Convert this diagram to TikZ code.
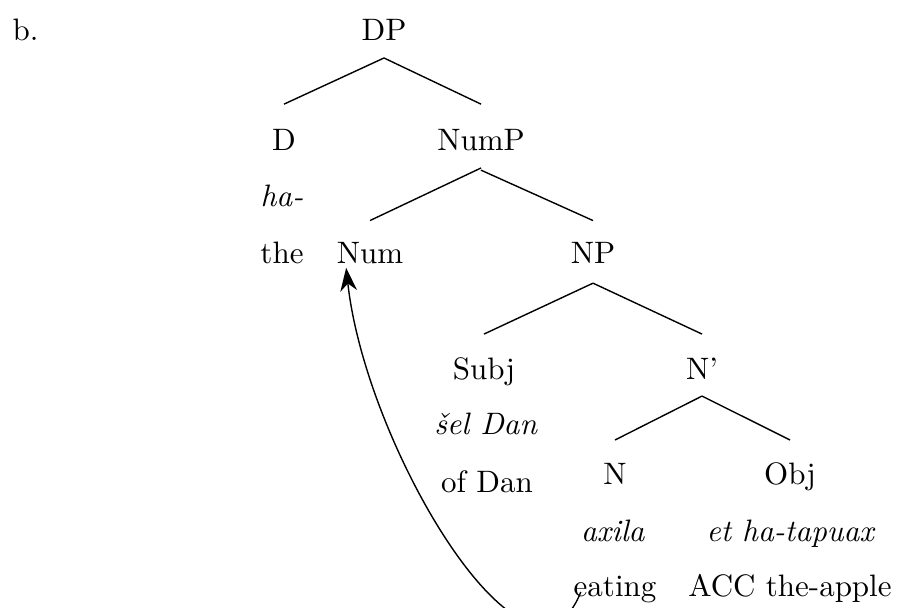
\documentclass[tikz,border=0pt]{standalone}
\usepackage{fontspec}
\usetikzlibrary{arrows.meta}
\begin{document}
\begin{tikzpicture}[x=0.3226pt,y=-0.3226pt,
  lbl/.style={inner sep=0pt,anchor=base,text height=6.83pt,text depth=1.94pt},
  edge/.style={line width=0.45pt},
  mv/.style={line width=0.45pt,-{Stealth[length=7.5pt,width=5.4pt,inset=2.4pt]}}]
\useasboundingbox (0,0) rectangle (898,607);
\node[lbl,anchor=base west] (b) at (12,40) {b.};
\node[lbl] (DP) at (384,40) {DP};
\node[lbl] (D) at (284,150) {D};
\node[lbl] (NumP) at (481,150) {NumP};
\node[lbl] (ha) at (282,206) {\textit{ha-}};
\node[lbl] (the) at (282,263) {the};
\node[lbl] (Num) at (370,263) {Num};
\node[lbl] (NP) at (593,263) {NP};
\node[lbl] (Subj) at (484,379) {Subj};
\node[lbl] (Nbar) at (702,379) {N'};
\node[lbl] (sel) at (486,434) {\textit{šel Dan}};
\node[lbl] (ofDan) at (487,492) {of Dan};
\node[lbl] (N) at (615,484) {N};
\node[lbl] (Obj) at (790,484) {Obj};
\node[lbl] (axila) at (613,541) {\textit{axila}};
\node[lbl] (tapuax) at (791,541) {\textit{et ha-tapuax}};
\node[lbl] (eating) at (615,596) {eating};
\node[lbl] (apple) at (790,596) {ACC the-apple};
% tree edges
\draw[edge] ([yshift=-5.8pt]DP.base) -- ([yshift=14.8pt]D.base);
\draw[edge] ([yshift=-5.8pt]DP.base) -- ([yshift=14.8pt]NumP.base);
\draw[edge] ([yshift=-5.8pt]NumP.base) -- ([yshift=13.7pt]Num.base);
\draw[edge] ([yshift=-6.5pt]NumP.base) -- ([yshift=13.7pt]NP.base);
\draw[edge] ([yshift=-6.5pt]NP.base) -- ([yshift=14.5pt]Subj.base);
\draw[edge] ([yshift=-6.5pt]NP.base) -- ([yshift=14.5pt]Nbar.base);
\draw[edge] ([yshift=-5.5pt]Nbar.base) -- ([yshift=14.2pt]N.base);
\draw[edge] ([yshift=-5.5pt]Nbar.base) -- ([yshift=14.2pt]Obj.base);
% movement arrow
\draw[mv] ([xshift=2.5pt,yshift=1.3pt]eating.base west) .. controls (530,720) and (366,450) .. ([xshift=3.2pt,yshift=0.6pt]Num.south west);
\end{tikzpicture}
\end{document}
